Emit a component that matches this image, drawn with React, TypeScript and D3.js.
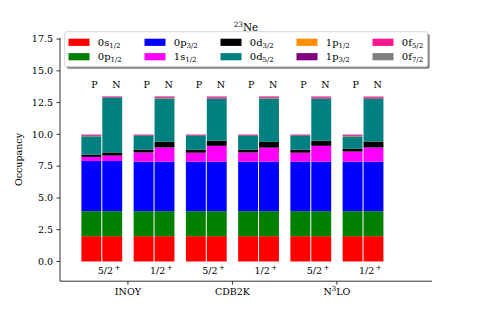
import * as d3 from 'd3';

// orbitals, in stacking order (bottom to top)
const orbitalNames = ['0s', '0p', '0p', '1s', '0d', '0d', '1p', '1p', '0f', '0f'];
const orbitalJ = ['1/2', '1/2', '3/2', '1/2', '3/2', '5/2', '1/2', '3/2', '5/2', '7/2'];
const orbitalColors = ['#ff0000', '#008000', '#0000ff', '#ff00ff', '#000000', '#008080', '#ff8c00', '#800080', '#ff1493', '#808080'];

const models = ['INOY', 'CDB2K', 'N3LO'];
const states = ['5/2', '1/2'];
const sides = ['P', 'N'];

// occupancies per state: [5/2+, 1/2+]
const inoyProton = [
  [1.99, 1.97, 3.95, 0.32, 0.18, 1.44, 0.02, 0.05, 0.06, 0.02],
  [1.99, 1.97, 3.90, 0.72, 0.22, 1.09, 0.02, 0.04, 0.03, 0.02],
];
const inoyNeutron = [
  [1.99, 1.97, 3.95, 0.42, 0.25, 4.30, 0.02, 0.04, 0.04, 0.02],
  [1.99, 1.97, 3.90, 1.11, 0.45, 3.40, 0.03, 0.06, 0.07, 0.02],
];
const cdb2kProton = [
  [1.99, 1.97, 3.90, 0.70, 0.23, 1.10, 0.02, 0.04, 0.03, 0.02],
  [1.99, 1.97, 3.90, 0.72, 0.22, 1.09, 0.02, 0.04, 0.03, 0.02],
];
const cdb2kNeutron = [
  [1.99, 1.97, 3.90, 1.24, 0.40, 3.29, 0.03, 0.07, 0.08, 0.03],
  [1.99, 1.97, 3.90, 1.10, 0.45, 3.41, 0.03, 0.06, 0.07, 0.02],
];
const n3loProton = [
  [1.99, 1.97, 3.90, 0.70, 0.23, 1.10, 0.02, 0.04, 0.03, 0.02],
  [1.99, 1.97, 3.90, 0.79, 0.24, 0.94, 0.03, 0.06, 0.06, 0.02],
];
const n3loNeutron = [
  [1.99, 1.97, 3.90, 1.24, 0.40, 3.29, 0.03, 0.07, 0.08, 0.03],
  [1.99, 1.97, 3.90, 1.11, 0.47, 3.35, 0.03, 0.06, 0.08, 0.03],
];

const yTicks = [0, 2.5, 5, 7.5, 10, 12.5, 15, 17.5];

const occupancy = [
  [inoyProton, inoyNeutron],
  [cdb2kProton, cdb2kNeutron],
  [n3loProton, n3loNeutron],
];

const AX = { left: 60, right: 432, top: 37.9, bottom: 281.2 };
const FONT = 'DejaVu Serif';
const BAR_W = 0.2;
const STATE_OFFSET = 0.25;

const xScale = d3.scaleLinear().domain([-0.65, 2.91]).range([AX.left, AX.right]);
const yScale = d3.scaleLinear().domain([-1.55, 17.59]).range([AX.bottom, AX.top]);

const ModelLabel = ({ name }: { name: string }) => {
  if (name === 'N3LO') {
    return (
      <>
        N<tspan dy={-4} fontSize={7}>3</tspan>
        <tspan dy={4}>LO</tspan>
      </>
    );
  }
  return <>{name}</>;
};

export default function App() {
  const bars: JSX.Element[] = [];
  const labels: JSX.Element[] = [];

  models.forEach((m, gi) => {
    states.forEach((st, si) => {
      const center = gi + (si === 0 ? -STATE_OFFSET : STATE_OFFSET);
      sides.forEach((side, pi) => {
        const vals = occupancy[gi][pi][si];
        const left = center + (pi === 0 ? -BAR_W : 0);
        const x0 = xScale(left);
        const x1 = xScale(left + BAR_W);
        const tops = Array.from(d3.cumsum(vals));
        vals.forEach((v, k) => {
          const base = tops[k] - v;
          bars.push(
            <rect
              key={`b-${gi}-${si}-${pi}-${k}`}
              x={x0 + 0.5}
              width={x1 - x0 - 1}
              y={yScale(tops[k])}
              height={yScale(base) - yScale(tops[k])}
              fill={orbitalColors[k]}
            />
          );
        });
        labels.push(
          <text
            key={`pn-${gi}-${si}-${pi}`}
            x={xScale(left + BAR_W / 2)}
            y={yScale(13.65)}
            fontSize={9.5}
            textAnchor="start"
          >
            {side}
          </text>
        );
      });
      labels.push(
        <text
          key={`st-${gi}-${si}`}
          x={xScale(center) - 4}
          y={yScale(-1.0)}
          fontSize={9.5}
          textAnchor="start"
        >
          {st}
          <tspan dx={1.5} dy={-4} fontSize={7}>+</tspan>
        </text>
      );
    });
  });

  const legend = orbitalNames.map((n, k) => {
    const col = Math.floor(k / 2);
    const row = k % 2;
    const hx = 68.5 + col * 76;
    const cy = row === 0 ? 42.3 : 56.7;
    return (
      <g key={`lg-${k}`}>
        <rect x={hx} y={cy - 3.6} width={21} height={7.2} fill={orbitalColors[k]} />
        <text x={hx + 29.3} y={cy + 3.4} fontSize={10}>
          {n}
          <tspan dy={2.2} fontSize={7}>{orbitalJ[k]}</tspan>
        </text>
      </g>
    );
  });

  return (
    <svg
      width={480}
      height={316}
      style={{ position: 'absolute', left: 0, top: 0, background: '#fff' }}
      fontFamily={FONT}
    >
      <rect width={480} height={316} fill="#fff" />
      {bars}
      {labels}

      {/* spines */}
      <line x1={AX.left} x2={AX.left} y1={AX.top} y2={AX.bottom} stroke="#000" strokeWidth={0.8} />
      <line x1={AX.left} x2={AX.right} y1={AX.bottom} y2={AX.bottom} stroke="#000" strokeWidth={0.8} />

      {yTicks.map((t) => (
        <g key={`yt-${t}`}>
          <line x1={AX.left - 3.5} x2={AX.left} y1={yScale(t)} y2={yScale(t)} stroke="#000" strokeWidth={0.8} />
          <text x={AX.left - 7} y={yScale(t)} dy="0.34em" textAnchor="end" fontSize={9.5}>
            {d3.format('.1f')(t)}
          </text>
        </g>
      ))}

      {models.map((m, gi) => (
        <g key={`xt-${m}`}>
          <line x1={xScale(gi)} x2={xScale(gi)} y1={AX.bottom} y2={AX.bottom + 3.5} stroke="#000" strokeWidth={0.8} />
          <text x={xScale(gi)} y={AX.bottom + 14} textAnchor="middle" fontSize={9.5}>
            <ModelLabel name={m} />
          </text>
        </g>
      ))}

      <text transform={`translate(22,${(AX.top + AX.bottom) / 2}) rotate(-90)`} textAnchor="middle" fontSize={9.5}>
        Occupancy
      </text>

      <text x={(AX.left + AX.right) / 2} y={30.5} textAnchor="middle" fontSize={10.4}>
        <tspan dy={-4} fontSize={7.3}>23</tspan>
        <tspan dy={4}>Ne</tspan>
      </text>

      {/* legend */}
      <rect x={66.7} y={33.7} width={363} height={35} rx={2} fill="#000" opacity={0.5} />
      <rect x={64.7} y={31.7} width={363} height={35} rx={2} fill="#fff" stroke="#cccccc" strokeWidth={0.8} />
      {legend}
    </svg>
  );
}
